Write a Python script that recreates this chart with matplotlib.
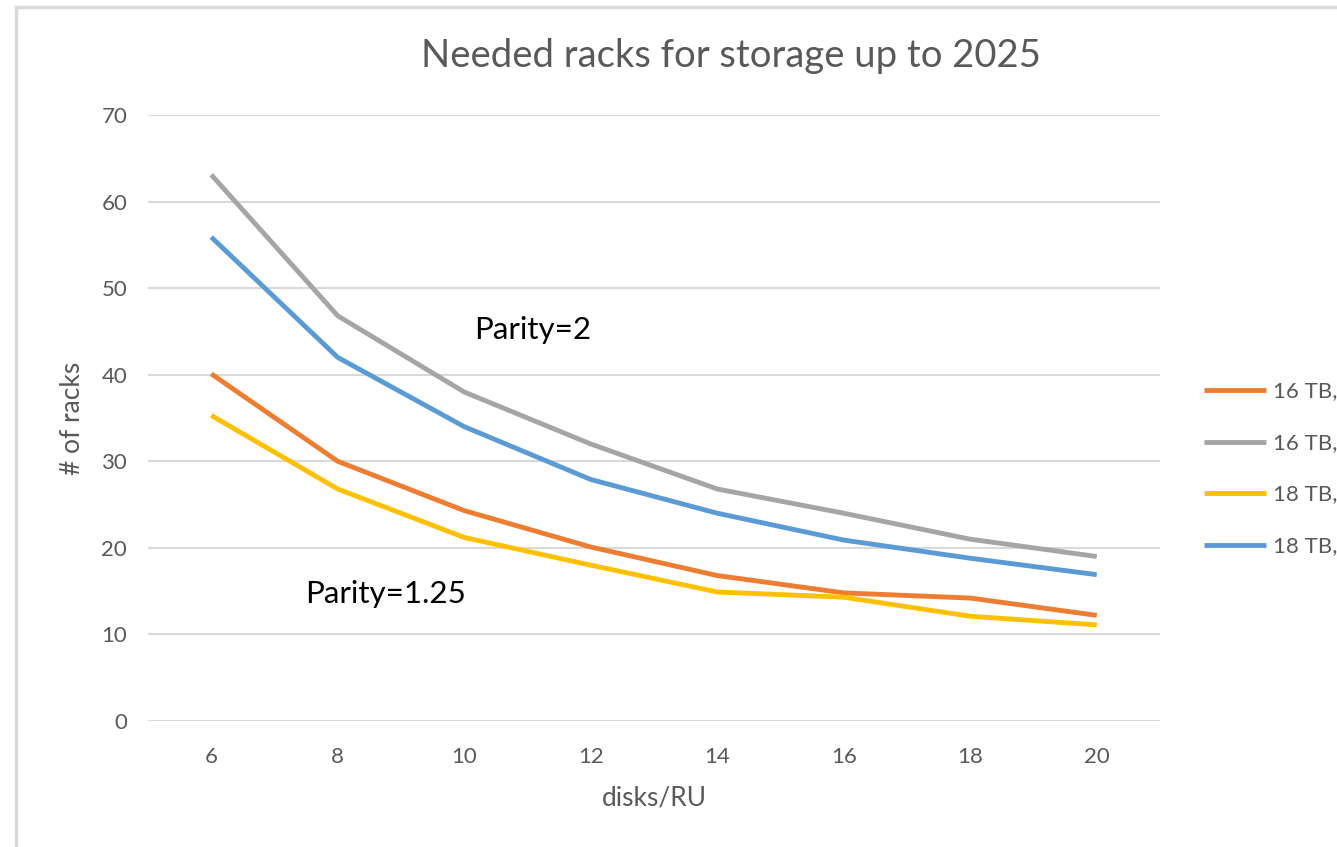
import matplotlib
matplotlib.use('Agg')
from matplotlib import pyplot as plt
from matplotlib.patches import Rectangle

disks_per_ru = [6, 8, 10, 12, 14, 16, 18, 20]

# racks needed
tb16_p125 = [40.1, 30.0, 24.3, 20.1, 16.8, 14.8, 14.2, 12.2]
tb16_p2 = [63.1, 46.8, 38.0, 32.0, 26.8, 24.0, 21.0, 19.0]
tb18_p125 = [35.3, 26.8, 21.2, 18.0, 14.9, 14.3, 12.1, 11.1]
tb18_p2 = [55.9, 42.0, 34.0, 27.9, 24.0, 20.9, 18.8, 16.9]

series_labels = ['16 TB, Parity=1.25', '16 TB, Parity=2',
                 '18 TB, Parity=1.25', '18 TB, Parity=2']
yticks = [0, 10, 20, 30, 40, 50, 60, 70]

W, H = 1337, 847
fig = plt.figure(figsize=(W / 100, H / 100), dpi=100)
plt.rcParams['font.family'] = ['Lato', 'DejaVu Sans']

# chart frame (runs off the right/bottom edge in the reference)
fig.patches.append(Rectangle((16 / W, -0.1), 1.2, 1 - 7 / H + 0.1,
                             transform=fig.transFigure, fill=False,
                             edgecolor='#d9d9d9', linewidth=2.5))

ax = fig.add_axes([148 / W, 1 - 721 / H, 1012 / W, 606 / H])

colors = ['#ed7d31', '#a5a5a5', '#ffc000', '#5b9bd5']
for vals, c, lab in zip([tb16_p125, tb16_p2, tb18_p125, tb18_p2],
                        colors, series_labels):
    ax.plot(disks_per_ru, vals, color=c, lw=3.5, label=lab,
            solid_joinstyle='round', solid_capstyle='butt')

ax.set_xlim(5, 21)
ax.set_ylim(0, 70)
ax.set_xticks(disks_per_ru)
ax.set_yticks(yticks)
ax.grid(axis='y', color='#d9d9d9', lw=1.5)
ax.set_axisbelow(True)
for s in ax.spines.values():
    s.set_visible(False)
ax.tick_params(length=0, colors='#595959', labelsize=16)
ax.tick_params(axis='x', pad=19)
ax.tick_params(axis='y', pad=15)

ax.set_xlabel('disks/RU', fontsize=19, color='#595959')
ax.set_ylabel('# of racks', fontsize=19, color='#595959')
ax.xaxis.set_label_coords(0.5005, -0.106)
ax.yaxis.set_label_coords(-0.062, 0.5)

fig.text(731 / W, 1 - 67 / H, 'Needed racks for storage up to 2025',
         ha='center', va='baseline', fontsize=27.5, color='#595959')

ax.text(10.15, 44.1, 'Parity=2', fontsize=22.5, color='black',
        va='baseline')
ax.text(7.49, 13.6, 'Parity=1.25', fontsize=22.5, color='black',
        va='baseline')

# legend runs off the right edge, as in the reference
ax.legend(loc='upper left', bbox_to_anchor=(1184 / W, 1 - 362 / H),
          bbox_transform=fig.transFigure, frameon=False, fontsize=16,
          labelcolor='#595959', handlelength=2.8, handletextpad=0.3,
          labelspacing=1.42)

fig.savefig('out.png', dpi=100)
